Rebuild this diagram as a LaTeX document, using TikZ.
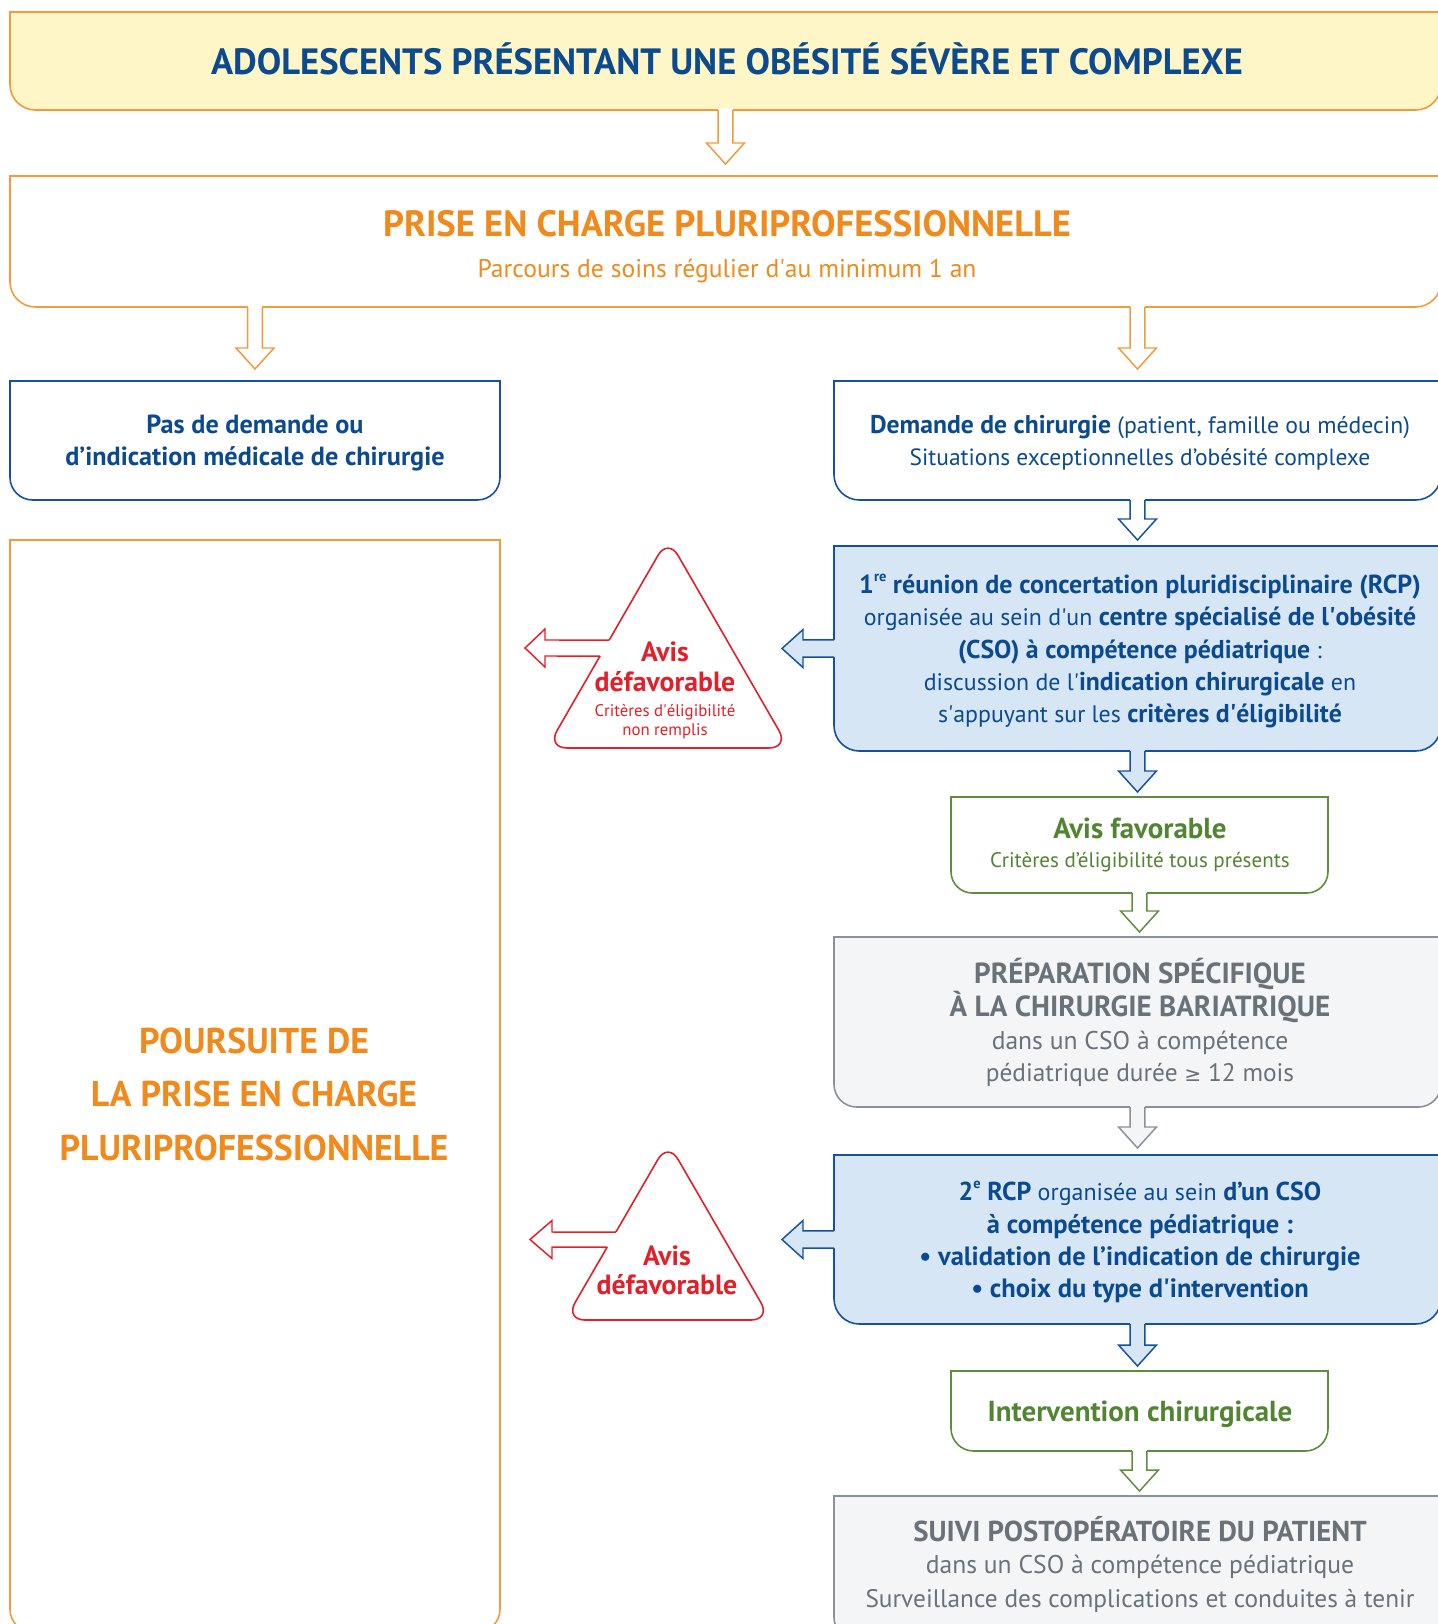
\documentclass[tikz,border=0pt]{standalone}
\usepackage{fontspec}
\setmainfont{PT Sans}[BoldFeatures={Scale=1.08}]
\newfontfamily\symfont{DejaVu Sans}[Scale=0.8]
\usetikzlibrary{calc}
\definecolor{tblue}{HTML}{0B4A8F}
\definecolor{bline}{HTML}{1452A0}
\definecolor{lblue}{HTML}{D7E6F5}
\definecolor{torange}{HTML}{F08A1C}
\definecolor{oline}{HTML}{F39A3A}
\definecolor{yfill}{HTML}{FFF6C8}
\definecolor{tgreen}{HTML}{528532}
\definecolor{gline}{HTML}{5E8E3A}
\definecolor{tred}{HTML}{E3202A}
\definecolor{tgray}{HTML}{6A7278}
\definecolor{grline}{HTML}{8A9198}
\definecolor{grfill}{HTML}{F4F5F7}
\newcommand\supx[1]{\raisebox{0.45em}{\fontsize{10pt}{10pt}\selectfont #1}}
\newcommand\mkbox[5]{\node[inner sep=0pt, outer sep=0pt, minimum width={(#4-#2)*0.75pt}, minimum height={(#5-#3)*0.75pt}] (#1) at ({(#2+#4)/2},{(#3+#5)/2}) {};}
\newcommand\bborder[3]{\path[#2] (#1.north) -- (#1.north west) [rounded corners=#3] -- (#1.south west) -- (#1.south east) [sharp corners] -- (#1.north east) -- cycle;}
\newcommand\txtline[6]{\node[anchor=base, inner sep=0pt, #5] (#1) at (#2,{#3+0.467*#4}) {\fontsize{#4pt}{#4pt}\selectfont #6};}
\newcommand\dnarrow[4]{%
 \fill[#4] let \p1=(#1), \p2=(#2) in
  (\x1-5.6pt,\y1+1.2pt) -- (\x1-5.6pt,\y2+15.75pt) -- (\x1-14.25pt,\y2+15.75pt) -- (\x1,\y2) -- (\x1+14.25pt,\y2+15.75pt) -- (\x1+5.6pt,\y2+15.75pt) -- (\x1+5.6pt,\y1+1.2pt) -- cycle;
 \draw[arrline,#3] let \p1=(#1), \p2=(#2) in
  (\x1-5.6pt,\y1) -- (\x1-5.6pt,\y2+15.75pt) -- (\x1-14.25pt,\y2+15.75pt) -- (\x1,\y2) -- (\x1+14.25pt,\y2+15.75pt) -- (\x1+5.6pt,\y2+15.75pt) -- (\x1+5.6pt,\y1);}
\newcommand\lfarrow[4]{%
 \fill[#4] let \p1=(#1), \p2=(#2) in
  (\x1+1.2pt,\y1+6.4pt) -- (\x2+15.75pt,\y1+6.4pt) -- (\x2+15.75pt,\y1+14.25pt) -- (\x2,\y1) -- (\x2+15.75pt,\y1-14.25pt) -- (\x2+15.75pt,\y1-6.4pt) -- (\x1+1.2pt,\y1-6.4pt) -- cycle;
 \draw[arrline,#3] let \p1=(#1), \p2=(#2) in
  (\x1,\y1+6.4pt) -- (\x2+15.75pt,\y1+6.4pt) -- (\x2+15.75pt,\y1+14.25pt) -- (\x2,\y1) -- (\x2+15.75pt,\y1-14.25pt) -- (\x2+15.75pt,\y1-6.4pt) -- (\x1,\y1-6.4pt);}
\begin{document}
\begin{tikzpicture}[x=0.75pt,y=-0.75pt,
  arrline/.style={line width=1.1pt, line join=miter},
  bx/.style={line width=1.2pt}]
\useasboundingbox (0,0) rectangle (1438,1624);
% boxes
\mkbox{top}{10}{12}{1441}{110}
\mkbox{pec}{10}{176}{1441}{307}
\mkbox{nodem}{10}{381}{500}{500}
\mkbox{dem}{834}{381}{1441}{500}
\mkbox{pours}{10}{540}{500}{1632}
\mkbox{rcpa}{834}{546}{1441}{751}
\mkbox{fav}{951}{797}{1328}{893}
\mkbox{prep}{834}{937}{1441}{1107}
\mkbox{rcpb}{834}{1155}{1441}{1324}
\mkbox{inter}{951}{1371}{1328}{1451}
\mkbox{suivi}{834}{1496}{1441}{1640}
\bborder{top}{bx,draw=oline,fill=yfill}{19pt}
\bborder{pec}{bx,draw=oline,fill=white}{19pt}
\bborder{nodem}{bx,draw=bline,fill=white}{17pt}
\bborder{dem}{bx,draw=bline,fill=white}{19pt}
\bborder{pours}{bx,draw=oline,fill=white}{17pt}
\bborder{rcpa}{bx,draw=bline,fill=lblue}{19pt}
\bborder{fav}{bx,draw=gline,fill=white}{16pt}
\bborder{prep}{bx,draw=grline,fill=grfill}{17pt}
\bborder{rcpb}{bx,draw=bline,fill=lblue}{19pt}
\bborder{inter}{bx,draw=gline,fill=white}{17pt}
\bborder{suivi}{bx,draw=grline,fill=grfill}{17pt}
% triangles
\coordinate (T1a) at (668,538); \coordinate (T1l) at (547,748); \coordinate (T1r) at (789,748);
\coordinate (T2a) at (668,1142); \coordinate (T2l) at (565,1320); \coordinate (T2r) at (771,1320);
\draw[bx,draw=tred,fill=white,rounded corners=15pt] ($(T1l)!0.5!(T1r)$) -- (T1r) -- (T1a) -- (T1l) -- cycle;
\draw[bx,draw=tred,fill=white,rounded corners=15pt] ($(T2l)!0.5!(T2r)$) -- (T2r) -- (T2a) -- (T2l) -- cycle;
% down arrows
\dnarrow{top.south}{$(pec.north)+(0,-12)$}{oline}{white}
\dnarrow{pec.south -| nodem.north}{$(nodem.north)+(0,-12)$}{oline}{white}
\dnarrow{pec.south -| dem.north}{$(dem.north)+(0,-12)$}{oline}{white}
\dnarrow{dem.south}{$(rcpa.north)+(0,-6)$}{bline}{white}
\dnarrow{rcpa.south}{$(fav.north)+(0,-5)$}{bline}{lblue}
\dnarrow{fav.south}{$(prep.north)+(0,-5)$}{gline}{white}
\dnarrow{prep.south}{$(rcpb.north)+(0,-7)$}{grline}{grfill}
\dnarrow{rcpb.south}{$(inter.north)+(0,-5)$}{bline}{lblue}
\dnarrow{inter.south}{$(suivi.north)+(0,-5)$}{gline}{white}
% left blue arrows
\lfarrow{rcpa.west}{$(rcpa.west)+(-52,0)$}{bline}{lblue}
\lfarrow{rcpb.west}{$(rcpb.west)+(-52,0)$}{bline}{lblue}
% red arrows
\coordinate (r1tip) at (525,648);
\coordinate (h1a) at (0,640); \coordinate (h1b) at (900,640);
\coordinate (h1c) at (0,656); \coordinate (h1d) at (900,656);
\coordinate (e1u) at (intersection of T1a--T1l and h1a--h1b);
\coordinate (e1d) at (intersection of T1a--T1l and h1c--h1d);
\fill[white] ($(e1u)+(6,0)$) -- ($(r1tip)+(20,-8)$) -- ($(r1tip)+(20,-19)$) -- (r1tip) -- ($(r1tip)+(20,19)$) -- ($(r1tip)+(20,8)$) -- ($(e1d)+(6,0)$) -- cycle;
\draw[arrline,tred] (e1u) -- ($(r1tip)+(20,-8)$) -- ($(r1tip)+(20,-19)$) -- (r1tip) -- ($(r1tip)+(20,19)$) -- ($(r1tip)+(20,8)$) -- (e1d);
\coordinate (r2tip) at (530,1239.5);
\coordinate (h2a) at (0,1232); \coordinate (h2b) at (900,1232);
\coordinate (h2c) at (0,1247); \coordinate (h2d) at (900,1247);
\coordinate (e2u) at (intersection of T2a--T2l and h2a--h2b);
\coordinate (e2d) at (intersection of T2a--T2l and h2c--h2d);
\fill[white] ($(e2u)+(6,0)$) -- ($(r2tip)+(22,-7.5)$) -- ($(r2tip)+(22,-19)$) -- (r2tip) -- ($(r2tip)+(22,19)$) -- ($(r2tip)+(22,7.5)$) -- ($(e2d)+(6,0)$) -- cycle;
\draw[arrline,tred] (e2u) -- ($(r2tip)+(22,-7.5)$) -- ($(r2tip)+(22,-19)$) -- (r2tip) -- ($(r2tip)+(22,19)$) -- ($(r2tip)+(22,7.5)$) -- (e2d);
% texts
\txtline{l1}{727}{63}{25.4}{font=\bfseries,text=tblue}{ADOLESCENTS PRÉSENTANT UNE OBÉSITÉ SÉVÈRE ET COMPLEXE}
\txtline{l2}{727}{225}{25.4}{font=\bfseries,text=torange}{PRISE EN CHARGE PLURIPROFESSIONNELLE}
\txtline{l3}{727}{269}{19.2}{text=torange}{Parcours de soins régulier d\textquotesingle au minimum 1 an}
\txtline{l4}{255}{425}{18.2}{font=\bfseries,text=tblue}{Pas de demande ou}
\txtline{l5}{255}{457}{18.2}{font=\bfseries,text=tblue}{d’indication médicale de chirurgie}
\txtline{l6}{1140}{425}{17.8}{text=tblue}{\textbf{Demande de chirurgie} (patient, famille ou médecin)}
\txtline{l7}{1140}{457}{17.6}{text=tblue}{Situations exceptionnelles d’obésité complexe}
\txtline{l8}{1140}{585}{18.1}{text=tblue}{\textbf{1\supx{re} réunion de concertation pluridisciplinaire (RCP)}}
\txtline{l9}{1140}{617}{17.9}{text=tblue}{organisée au sein d\textquotesingle un \textbf{centre spécialisé de l\textquotesingle obésité}}
\txtline{l10}{1140}{650}{17.9}{text=tblue}{\textbf{(CSO) à compétence pédiatrique} :}
\txtline{l11}{1140}{682}{17.9}{text=tblue}{discussion de l\textquotesingle\textbf{indication chirurgicale} en}
\txtline{l12}{1140}{714}{17.9}{text=tblue}{s\textquotesingle appuyant sur les \textbf{critères d\textquotesingle éligibilité}}
\txtline{l13}{1140}{829}{20.1}{font=\bfseries,text=tgreen}{Avis favorable}
\txtline{l14}{1140}{860}{15.8}{text=tgreen}{Critères d’éligibilité tous présents}
\txtline{l15}{1140}{974}{20.2}{font=\bfseries,text=tgray}{PRÉPARATION SPÉCIFIQUE}
\txtline{l16}{1140}{1007}{20.2}{font=\bfseries,text=tgray}{À LA CHIRURGIE BARIATRIQUE}
\txtline{l17}{1140}{1041}{19.2}{text=tgray}{dans un CSO à compétence}
\txtline{l18}{1140}{1073}{19}{text=tgray}{pédiatrique durée {\symfont ≥} 12 mois}
\txtline{l19}{1140}{1192}{18}{text=tblue}{\textbf{2\supx{e} RCP} organisée au sein \textbf{d’un CSO}}
\txtline{l20}{1140}{1225}{18.4}{font=\bfseries,text=tblue}{à compétence pédiatrique :}
\txtline{l21}{1140}{1257}{18.4}{font=\bfseries,text=tblue}{• validation de l’indication de chirurgie}
\txtline{l22}{1140}{1289}{18.4}{font=\bfseries,text=tblue}{• choix du type d\textquotesingle intervention}
\txtline{l23}{1140}{1412}{20.1}{font=\bfseries,text=tgreen}{Intervention chirurgicale}
\txtline{l24}{1140}{1532}{20}{font=\bfseries,text=tgray}{SUIVI POSTOPÉRATOIRE DU PATIENT}
\txtline{l25}{1140}{1565}{19.2}{text=tgray}{dans un CSO à compétence pédiatrique}
\txtline{l26}{1140}{1599}{19}{text=tgray}{Surveillance des complications et conduites à tenir}
\txtline{l27}{254}{1042}{24.9}{font=\bfseries,text=torange}{POURSUITE DE}
\txtline{l28}{254}{1095}{24.9}{font=\bfseries,text=torange}{LA PRISE EN CHARGE}
\txtline{l29}{254}{1149}{24.9}{font=\bfseries,text=torange}{PLURIPROFESSIONNELLE}
\txtline{l30}{665}{652}{19.3}{font=\bfseries,text=tred}{Avis}
\txtline{l31}{665}{682}{19.3}{font=\bfseries,text=tred}{défavorable}
\txtline{l32}{665}{711}{12.6}{text=tred}{Critères d\textquotesingle éligibilité}
\txtline{l33}{665}{730}{12.6}{text=tred}{non remplis}
\txtline{l34}{667}{1256}{19.3}{font=\bfseries,text=tred}{Avis}
\txtline{l35}{667}{1285}{19.3}{font=\bfseries,text=tred}{défavorable}
\end{tikzpicture}
\end{document}
